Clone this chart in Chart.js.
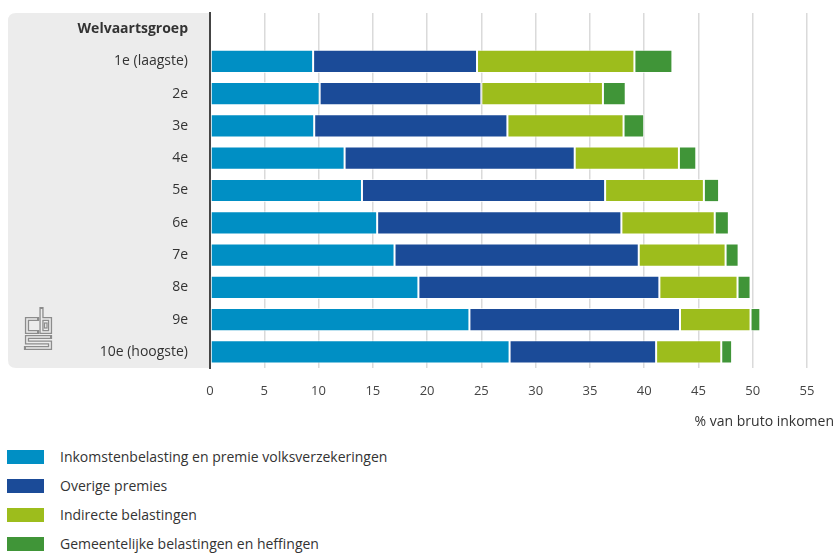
<!DOCTYPE html>
<html>
<head>
<meta charset="utf-8">
<script src="https://cdn.jsdelivr.net/npm/chart.js@4.4.0/dist/chart.umd.min.js"></script>
<style>
  body { margin: 0; background: #fff; font-family: 'Open Sans', sans-serif; }
  #wrap { position: absolute; left: 0; top: 0; width: 835px; height: 440px; }
  #legend { position: absolute; left: 7px; top: 442px; margin: 0; padding: 0; list-style: none; }
  #legend li { height: 29px; display: flex; align-items: center; font-size: 14px; color: #333; }
  #legend span.box { display: inline-block; width: 37px; height: 14px; margin-right: 16px; }
</style>
</head>
<body>
<div id="wrap"><canvas id="chart"></canvas></div>
<ul id="legend"></ul>
<script>
const headerLabel = 'Welvaartsgroep';
const groups = ['1e (laagste)', '2e', '3e', '4e', '5e', '6e', '7e', '8e', '9e', '10e (hoogste)'];
const seriesNames = [
    'Inkomstenbelasting en premie volksverzekeringen',
    'Overige premies',
    'Indirecte belastingen',
    'Gemeentelijke belastingen en heffingen'
];
const inkomstenbelasting = [9.5, 10.1, 9.6, 12.4, 14.0, 15.4, 17.0, 19.2, 23.9, 27.6];
const overigePremies = [15.1, 14.9, 17.8, 21.2, 22.4, 22.5, 22.5, 22.2, 19.4, 13.5];
const indirecteBelastingen = [14.5, 11.2, 10.7, 9.6, 9.1, 8.6, 8.0, 7.2, 6.5, 6.0];
const gemeentelijk = [3.5, 2.1, 1.9, 1.6, 1.4, 1.3, 1.2, 1.2, 0.9, 1.0];
const xTicks = [0, 5, 10, 15, 20, 25, 30, 35, 40, 45, 50, 55];
const axisTitle = '% van bruto inkomen';

const colors = ['#008fc4', '#1b4b98', '#9dbd1c', '#409538'];
const allValues = [inkomstenbelasting, overigePremies, indirecteBelastingen, gemeentelijk];

// eerste rij is de kop "Welvaartsgroep", daar staan geen balken
const labels = [headerLabel, ...groups];
const datasets = seriesNames.map((name, i) => ({
    label: name,
    data: [null, ...allValues[i]],
    backgroundColor: colors[i],
    borderColor: 'rgba(255,255,255,0.7)',
    borderWidth: 1,
    borderSkipped: false,
    barPercentage: 0.72,
    categoryPercentage: 1
}));

const panelColor = '#ececec';

function logoPath(ctx, ox, oy) {
    ctx.beginPath();
    // c
    ctx.moveTo(ox + 12, oy + 11); ctx.lineTo(ox + 2, oy + 11); ctx.lineTo(ox + 2, oy + 24); ctx.lineTo(ox + 12, oy + 24);
    // b
    ctx.moveTo(ox + 16.5, oy + 1); ctx.lineTo(ox + 16.5, oy + 24); ctx.lineTo(ox + 25, oy + 24);
    ctx.lineTo(ox + 25, oy + 11); ctx.lineTo(ox + 16.5, oy + 11);
    // s
    ctx.moveTo(ox + 25, oy + 29); ctx.lineTo(ox + 2, oy + 29); ctx.lineTo(ox + 2, oy + 34.5);
    ctx.lineTo(ox + 25, oy + 34.5); ctx.lineTo(ox + 25, oy + 40); ctx.lineTo(ox + 1, oy + 40);
}

const panelPlugin = {
    id: 'panel',
    beforeDraw(chart) {
        const ctx = chart.ctx;
        const area = chart.chartArea;
        const left = 8, r = 8;
        ctx.save();
        ctx.fillStyle = panelColor;
        ctx.beginPath();
        ctx.moveTo(area.left, area.top);
        ctx.lineTo(left + r, area.top);
        ctx.quadraticCurveTo(left, area.top, left, area.top + r);
        ctx.lineTo(left, area.bottom - r);
        ctx.quadraticCurveTo(left, area.bottom, left + r, area.bottom);
        ctx.lineTo(area.left, area.bottom);
        ctx.closePath();
        ctx.fill();

        // cbs-logo: dikke grijze lijn met een lichte lijn erin, geeft de dubbele omtrek
        const ox = 25, oy = 308;
        ctx.lineJoin = 'miter';
        ctx.lineCap = 'square';
        logoPath(ctx, ox, oy);
        ctx.strokeStyle = '#8c8c8c';
        ctx.lineWidth = 4.2;
        ctx.stroke();
        ctx.rect(ox + 19.5, oy + 15, 2.5, 5);
        ctx.lineCap = 'butt';
        logoPath(ctx, ox, oy);
        ctx.strokeStyle = panelColor;
        ctx.lineWidth = 1.6;
        ctx.stroke();
        ctx.strokeStyle = '#8c8c8c';
        ctx.lineWidth = 1.2;
        ctx.strokeRect(ox + 19.5, oy + 15, 2.5, 5);
        ctx.restore();
    },
    afterDraw(chart) {
        const ctx = chart.ctx;
        ctx.save();
        ctx.font = '14px "Open Sans"';
        ctx.fillStyle = '#333';
        ctx.textAlign = 'right';
        ctx.textBaseline = 'middle';
        ctx.fillText(axisTitle, chart.width - 1, 422);
        ctx.restore();
    }
};

const chart = new Chart(document.getElementById('chart'), {
    type: 'bar',
    data: { labels: labels, datasets: datasets },
    options: {
        indexAxis: 'y',
        responsive: true,
        maintainAspectRatio: false,
        animation: false,
        layout: { padding: { top: 13, right: 28, left: 0, bottom: 0 } },
        plugins: {
            legend: { display: false },
            tooltip: { enabled: false }
        },
        scales: {
            x: {
                stacked: true,
                min: 0,
                max: 55,
                afterBuildTicks: (scale) => { scale.ticks = xTicks.map(v => ({ value: v })); },
                afterFit: (scale) => { scale.height = 72; scale.paddingLeft = 0; scale.paddingRight = 0; },
                grid: {
                    color: (c) => c.index === 0 ? 'rgba(0,0,0,0)' : '#dadada',
                    lineWidth: 1.5,
                    drawTicks: false
                },
                border: { display: false },
                ticks: {
                    color: '#444',
                    font: { family: 'Open Sans', size: 13 },
                    padding: 15
                }
            },
            y: {
                stacked: true,
                afterFit: (scale) => { scale.width = 210; scale.paddingTop = 0; scale.paddingBottom = 0; },
                grid: { display: false, drawTicks: false },
                border: { display: true, color: '#444', width: 2 },
                ticks: {
                    color: '#333',
                    padding: 22,
                    font: (c) => ({ family: 'Open Sans', size: 14, weight: c.index === 0 ? 'bold' : 'normal' })
                }
            }
        }
    },
    plugins: [panelPlugin]
});

const legend = document.getElementById('legend');
seriesNames.forEach((name, i) => {
    const li = document.createElement('li');
    li.innerHTML = `<span class="box" style="background:${colors[i]}"></span>${name}`;
    legend.appendChild(li);
});
</script>
</body>
</html>
